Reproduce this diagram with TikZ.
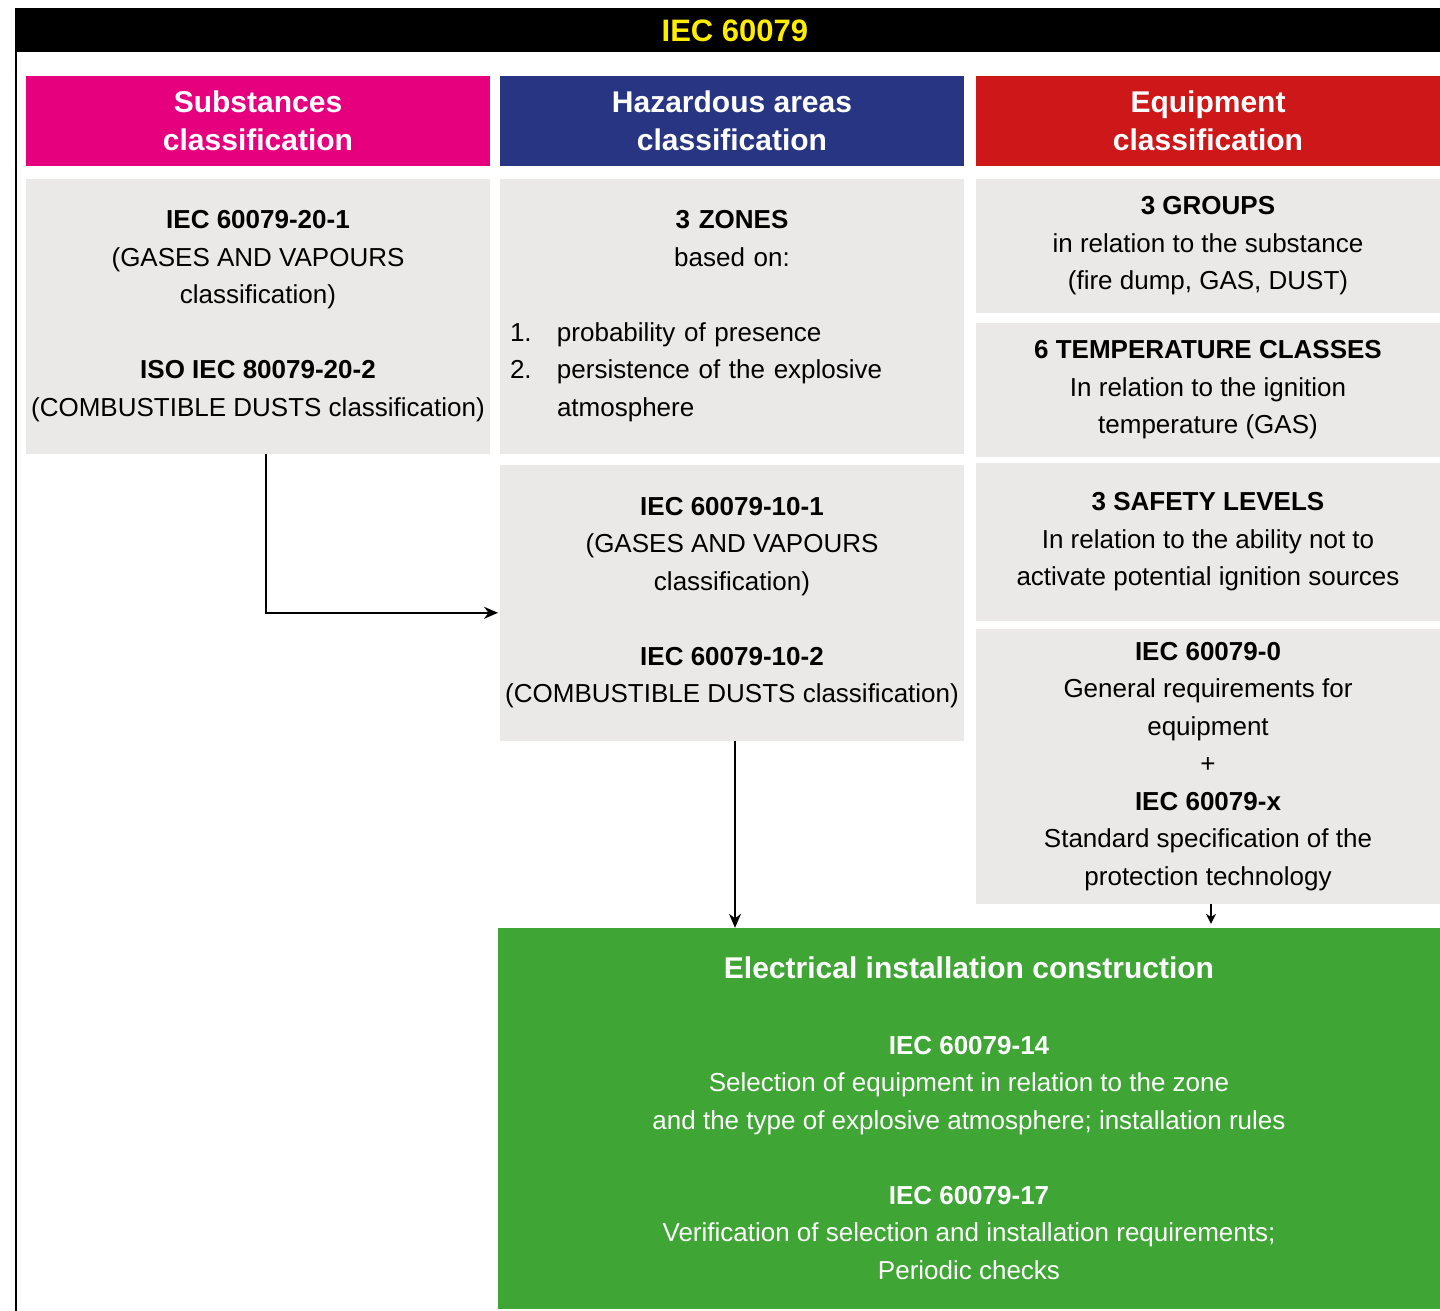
\documentclass[tikz,border=0pt]{standalone}
\usepackage{fontspec}
\setmainfont{Liberation Sans}
\usetikzlibrary{positioning,calc}
\usetikzlibrary{arrows.meta}

\definecolor{iecmagenta}{HTML}{E6007E}
\definecolor{iecblue}{HTML}{283583}
\definecolor{iecred}{HTML}{CD1719}
\definecolor{iecgreen}{HTML}{3FA535}
\definecolor{iecgrey}{HTML}{EAE9E7}
\definecolor{iecyellow}{HTML}{FFED00}

\tikzset{
  box/.style={minimum width=232pt, inner sep=0pt, outer sep=0pt},
  hdr/.style={box, align=center, minimum height=45pt, text=white,
    font=\bfseries\fontsize{15}{19}\selectfont},
  cell/.style={box, align=center, fill=iecgrey,
    font=\fontsize{13}{18.75}\selectfont},
  link/.style={line width=0.75pt, -{Stealth[length=7pt,width=6pt]}},
}

\begin{document}
\begin{tikzpicture}[x=1pt,y=1pt]
  \useasboundingbox (0,0) rectangle (720,-655.5);

  % frame and title band
  \draw[line width=1pt] (7.75,-4) -- (7.75,-655.5);
  \node[fill=black, text=iecyellow, minimum width=719.5pt, minimum height=22pt,
    inner sep=0pt, anchor=north west,
    font=\bfseries\fontsize{15.5}{19}\selectfont] (t0) at (7.5,-4) {IEC 60079};

  % column headers
  \node[hdr, fill=iecmagenta, below right=11.5pt and 5.5pt of t0.south west] (s0)
    {Substances\\classification};
  \node[hdr, fill=iecblue, right=5pt of s0]  (h0) {Hazardous areas\\classification};
  \node[hdr, fill=iecred,  right=6pt of h0]  (e0) {Equipment\\classification};

  % substances
  \node[cell, minimum height=137.5pt, below=6.5pt of s0] (s1)
    {\textbf{IEC 60079-20-1}\\(GASES AND VAPOURS\\classification)\\[18.75pt]
     \textbf{ISO IEC 80079-20-2}\\(COMBUSTIBLE DUSTS classification)};

  % hazardous areas
  \node[box, fill=iecgrey, minimum height=137.5pt, text width=222pt,
    font=\fontsize{13}{18.75}\selectfont, below=6.5pt of h0] (h1)
    {{\centering\textbf{3 ZONES}\\based on:\par}
     \vspace{18.75pt}
     \raggedright
     \makebox[23.5pt][l]{1.}probability of presence\\
     \makebox[23.5pt][l]{2.}persistence of the explosive\\
     \hspace*{23.5pt}atmosphere\par};
  \node[cell, minimum height=138pt, below=5.5pt of h1] (h2)
    {\textbf{IEC 60079-10-1}\\(GASES AND VAPOURS\\classification)\\[18.75pt]
     \textbf{IEC 60079-10-2}\\(COMBUSTIBLE DUSTS classification)};

  % equipment
  \node[cell, minimum height=67pt, below=6.5pt of e0] (e1)
    {\textbf{3 GROUPS}\\in relation to the substance\\(fire dump, GAS, DUST)};
  \node[cell, minimum height=67pt, below=5pt of e1] (e2)
    {\textbf{6 TEMPERATURE CLASSES}\\In relation to the ignition\\temperature (GAS)};
  \node[cell, minimum height=78.75pt, below=3.25pt of e2] (e3)
    {\textbf{3 SAFETY LEVELS}\\In relation to the ability not to\\activate potential ignition sources};
  \node[cell, minimum height=137.5pt, below=4pt of e3] (e4)
    {\textbf{IEC 60079-0}\\General requirements for\\equipment\\+\\
     \textbf{IEC 60079-x}\\Standard specification of the\\protection technology};

  % installation
  \node[box, align=center, fill=iecgreen, text=white, minimum width=471pt,
    minimum height=190.5pt, font=\fontsize{13}{18.75}\selectfont,
    below=12pt of e4.south east, anchor=north east] (g0)
    {{\bfseries\fontsize{15}{19}\selectfont Electrical installation construction}\\[19pt]
     \textbf{IEC 60079-14}\\Selection of equipment in relation to the zone\\
     and the type of explosive atmosphere; installation rules\\[18.75pt]
     \textbf{IEC 60079-17}\\Verification of selection and installation requirements;\\
     Periodic checks};

  % links
  \draw[link, shorten >=1pt] ([xshift=4pt]s1.south) |- ([yshift=-5pt]h2.west);
  \draw[link] ([xshift=1.5pt]h2.south) -- ([xshift=1.5pt]h2.south |- g0.north);
  \draw[line width=0.75pt, -{Stealth[length=5pt,width=5pt]}, shorten >=2pt]
    ([xshift=1.5pt]e4.south) -- ([xshift=1.5pt]e4.south |- g0.north);
\end{tikzpicture}
\end{document}
